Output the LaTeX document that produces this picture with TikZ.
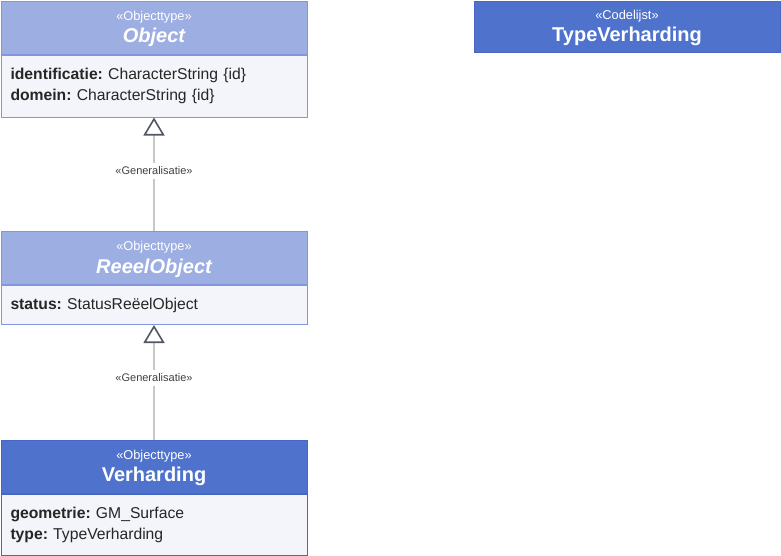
\documentclass[tikz,border=0pt]{standalone}
\usepackage{fontspec}
\setmainfont{Liberation Sans}
\usepackage{tikz}
\usetikzlibrary{arrows.meta,positioning}
\definecolor{abstrhead}{RGB}{157,174,227}
\definecolor{abstrline}{RGB}{129,150,220}
\definecolor{conchead}{RGB}{79,115,204}
\definecolor{concline}{RGB}{70,104,196}
\definecolor{bodyfill}{RGB}{244,245,250}
\definecolor{genline}{RGB}{200,200,200}
\definecolor{gentip}{RGB}{80,86,98}
\frenchspacing
\newcommand{\stereo}[1]{{\fontsize{12.8}{14}\selectfont «#1»}}
\newcommand{\clsname}[1]{{\fontsize{20}{22}\selectfont\bfseries #1}}
\newcommand{\attr}[2]{\textbf{#1:} #2}

\begin{document}
\begin{tikzpicture}[x=1pt, y=-1pt, >=Latex,
  head/.style={draw, line width=1pt, minimum width=306pt, minimum height=53pt, inner sep=0pt,
    align=center, text=white, anchor=north west},
  abstract/.style={head, fill=abstrhead, draw=abstrline},
  concrete/.style={head, fill=conchead, draw=concline},
  body/.style={draw=#1, line width=1pt, fill=bodyfill, minimum width=306pt, text width=287pt,
    inner xsep=9.5pt, align=left, text=black!85, font=\fontsize{15.7}{21}\selectfont,
    anchor=north},
  gen/.style={draw=genline, line width=1.4pt,
    -{Triangle[open, length=18pt, width=21pt, color=gentip, line width=1.6pt]}},
  genlabel/.style={fill=white, inner sep=4pt, text=black!75, font=\fontsize{11}{12}\selectfont}]
  \useasboundingbox (0,0) rectangle (781,555);
  % klassen
  \node[abstract] (objhead) at (0.5,0.5) {\rule{0pt}{12pt}\stereo{Objecttype}\\[4pt]\clsname{\itshape Object}};
  \node[body=abstrline, below=0pt of objhead, minimum height=62pt] (objbody)
    {\attr{identificatie}{CharacterString \{id\}}\\\attr{domein}{CharacterString \{id\}}};
  \node[abstract] (reeelhead) at (0.5,231) {\rule{0pt}{12pt}\stereo{Objecttype}\\[4pt]\clsname{\itshape ReeelObject}};
  \node[body=abstrline, below=0pt of reeelhead, minimum height=39pt] (reeelbody)
    {\attr{status}{StatusReëelObject}};
  \node[concrete] (verhhead) at (0.5,440) {\rule{0pt}{12pt}\stereo{Objecttype}\\[4pt]\clsname{Verharding}};
  \node[body=concline, below=0pt of verhhead, minimum height=60.5pt] (verhbody)
    {\attr{geometrie}{GM\_Surface}\\\attr{type}{TypeVerharding}};
  \node[concrete, minimum height=51pt] (typehead) at (473.5,0.5) {\rule{0pt}{12pt}\stereo{Codelijst}\\[4pt]\clsname{TypeVerharding}};
  % generalisaties
  \draw[gen] (reeelhead.north) -- node[genlabel, pos=0.53] {«Generalisatie»} (objbody.south);
  \draw[gen] (verhhead.north) -- node[genlabel, pos=0.54] {«Generalisatie»} (reeelbody.south);
\end{tikzpicture}
\end{document}
